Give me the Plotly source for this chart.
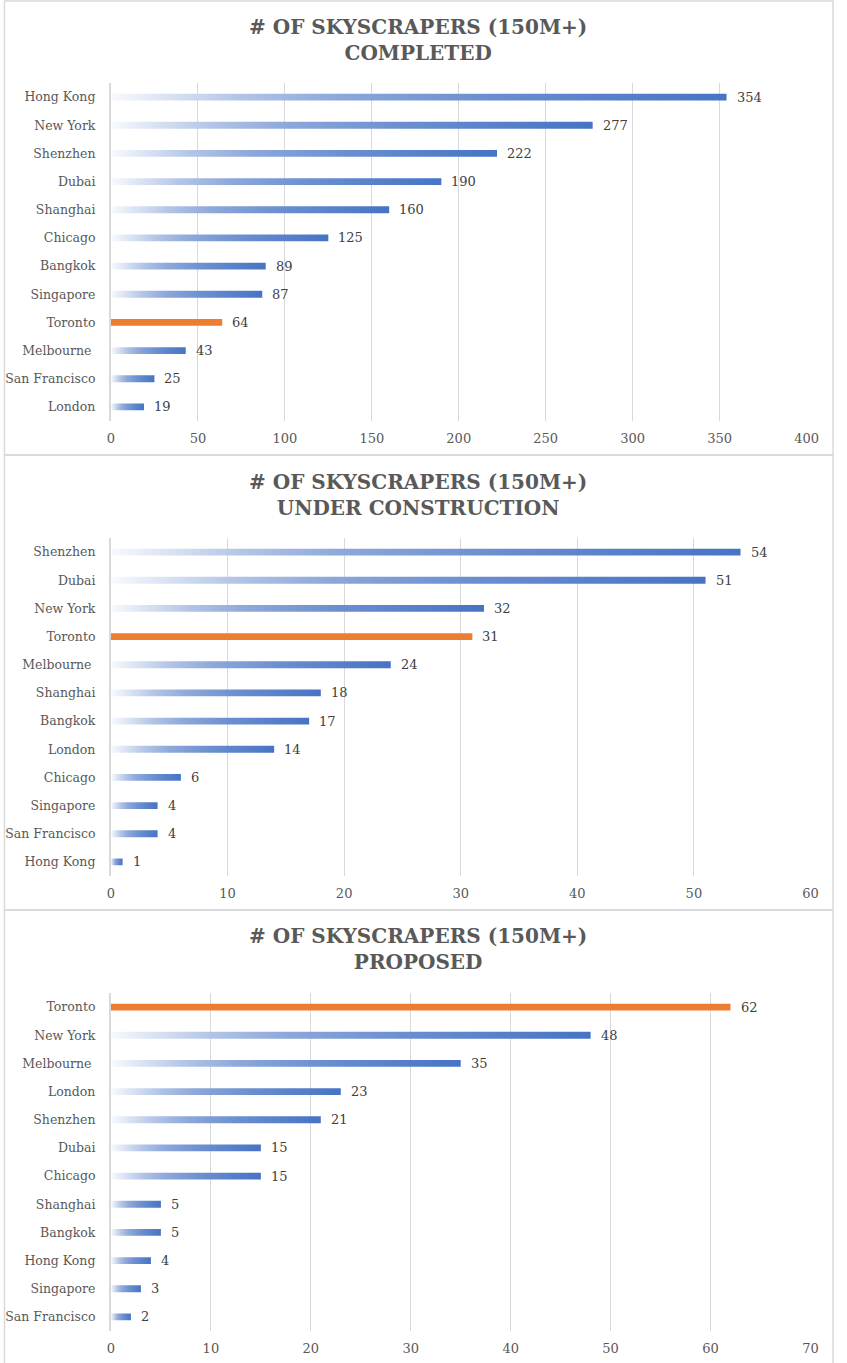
import plotly.graph_objects as go

# Completed
cities_done = ["Hong Kong", "New York", "Shenzhen", "Dubai", "Shanghai", "Chicago",
               "Bangkok", "Singapore", "Toronto", "Melbourne ", "San Francisco", "London"]
vals_done = [354, 277, 222, 190, 160, 125, 89, 87, 64, 43, 25, 19]

# Under construction
cities_uc = ["Shenzhen", "Dubai", "New York", "Toronto", "Melbourne ", "Shanghai",
             "Bangkok", "London", "Chicago", "Singapore", "San Francisco", "Hong Kong"]
vals_uc = [54, 51, 32, 31, 24, 18, 17, 14, 6, 4, 4, 1]

# Proposed
cities_prop = ["Toronto", "New York", "Melbourne ", "London", "Shenzhen", "Dubai",
               "Chicago", "Shanghai", "Bangkok", "Hong Kong", "Singapore", "San Francisco"]
vals_prop = [62, 48, 35, 23, 21, 15, 15, 5, 5, 4, 3, 2]

titles = ["# OF SKYSCRAPERS (150M+)<br>COMPLETED",
          "# OF SKYSCRAPERS (150M+)<br>UNDER CONSTRUCTION",
          "# OF SKYSCRAPERS (150M+)<br>PROPOSED"]
xmax = [400, 60, 70]
dticks = [50, 10, 10]

W, H = 847, 1363
FONT = "DejaVu Serif"
BLUE = "#4472C4"
ORANGE = "#ED7D31"
GRID = "#D9D9D9"
TXT = "#595959"
grad = [[0, "#F8FAFD"], [0.2, "#B4C6E7"], [0.35, "#8EA9DB"], [0.6, "#6A8ED0"], [1, BLUE]]

# pixel layout of each panel: (plot top, plot bottom, plot right, title center, border top, border bottom)
panels = [(83, 421, 818, 40, 1, 455),
          (538, 876, 822, 494.5, 455, 910),
          (993, 1331, 822, 949, 910, 1375)]

def py(p):
    return 1 - p / H

fig = go.Figure()
half = 0.12

datasets = [(cities_done, vals_done), (cities_uc, vals_uc), (cities_prop, vals_prop)]
for k, (cities, vals) in enumerate(datasets):
    n = k + 1
    xa = "x" if n == 1 else f"x{n}"
    ya = "y" if n == 1 else f"y{n}"
    for i, (c, v) in enumerate(zip(cities, vals)):
        xs = [0, v, v, 0, 0]
        ys = [i - half, i - half, i + half, i + half, i - half]
        if c == "Toronto":
            fig.add_trace(go.Scatter(x=xs, y=ys, fill="toself", fillcolor=ORANGE,
                                     mode="lines", line=dict(width=0),
                                     xaxis=xa, yaxis=ya, hoverinfo="skip", showlegend=False))
        else:
            fig.add_trace(go.Scatter(x=xs, y=ys, fill="toself",
                                     fillgradient=dict(type="horizontal", colorscale=grad,
                                                       start=0, stop=v),
                                     mode="lines", line=dict(width=0),
                                     xaxis=xa, yaxis=ya, hoverinfo="skip", showlegend=False))
        fig.add_annotation(x=v, y=i, xref=xa, yref=ya, text=str(v), showarrow=False,
                           xanchor="left", xshift=8, font=dict(family=FONT, size=13, color="#404040"))

    top, bot, right, tc, bt, bb = panels[k]
    fig.update_layout({
        ("xaxis" if n == 1 else f"xaxis{n}"): dict(
            domain=[109 / W, right / W], range=[0, xmax[k]], dtick=dticks[k], tick0=0,
            showgrid=True, gridcolor=GRID, gridwidth=1, zeroline=False, showline=False,
            anchor=ya, ticks="", ticklabelstandoff=8,
            tickfont=dict(family=FONT, size=13, color=TXT)),
        ("yaxis" if n == 1 else f"yaxis{n}"): dict(
            domain=[py(bot), py(top)], range=[11.5, -0.5], tickvals=list(range(12)),
            ticktext=cities, showgrid=False, zeroline=False, showline=True,
            linecolor=GRID, linewidth=2, anchor=xa, ticks="", ticklabelstandoff=11,
            tickfont=dict(family=FONT, size=12.5, color=TXT)),
    })
    fig.add_annotation(x=0.498, y=py(tc), xref="paper", yref="paper", text=titles[k],
                       showarrow=False, xanchor="center", yanchor="middle",
                       font=dict(family=FONT, size=20, color=TXT, weight="bold"))
    fig.add_shape(type="rect", xref="paper", yref="paper",
                  x0=0.5 / W, x1=845 / W, y0=py(bb), y1=py(bt),
                  line=dict(color=GRID, width=1.5), fillcolor="rgba(0,0,0,0)", layer="below")

fig.update_layout(width=W, height=H, margin=dict(l=0, r=0, t=0, b=0),
                  paper_bgcolor="white", plot_bgcolor="white")
fig.write_html("out.html", config={"responsive": False, "displayModeBar": False},
               post_script="document.body.style.margin='0';")
